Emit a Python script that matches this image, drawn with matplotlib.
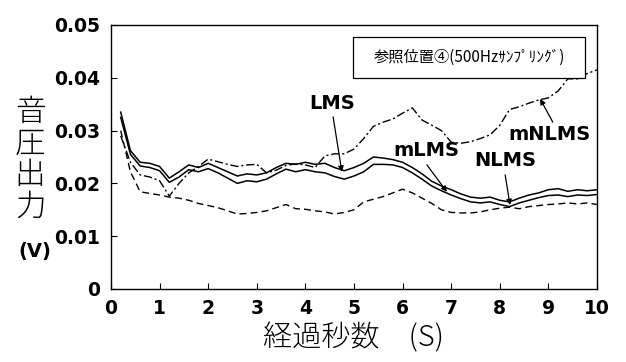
import numpy as np
import matplotlib.pyplot as plt
from matplotlib.patches import Rectangle

plt.rcParams['font.family'] = ['DejaVu Sans', 'Noto Sans CJK JP']

# elapsed time (s), one sample every 0.2 s
timeSec = np.round(np.arange(0.2, 10.01, 0.2), 1)

lms = [0.0335, 0.0262, 0.0240, 0.0238, 0.0232, 0.0210, 0.0222, 0.0235, 0.0230, 0.0238,
       0.0230, 0.0222, 0.0214, 0.0218, 0.0216, 0.0220, 0.0230, 0.0238, 0.0236, 0.0240,
       0.0236, 0.0238, 0.0230, 0.0224, 0.0230, 0.0238, 0.0250, 0.0248, 0.0245, 0.0240,
       0.0230, 0.0218, 0.0204, 0.0195, 0.0188, 0.0180, 0.0174, 0.0172, 0.0174, 0.0168,
       0.0165, 0.0172, 0.0178, 0.0182, 0.0188, 0.0190, 0.0185, 0.0188, 0.0186, 0.0188]

nlms = [0.0325, 0.0255, 0.0233, 0.0230, 0.0224, 0.0202, 0.0212, 0.0226, 0.0222, 0.0228,
        0.0220, 0.0210, 0.0200, 0.0205, 0.0203, 0.0208, 0.0218, 0.0227, 0.0222, 0.0226,
        0.0222, 0.0220, 0.0213, 0.0208, 0.0214, 0.0222, 0.0236, 0.0236, 0.0235, 0.0230,
        0.0220, 0.0208, 0.0195, 0.0186, 0.0178, 0.0171, 0.0165, 0.0163, 0.0165, 0.0160,
        0.0156, 0.0163, 0.0168, 0.0173, 0.0177, 0.0178, 0.0175, 0.0178, 0.0177, 0.0179]

mlms = [0.0300, 0.0222, 0.0184, 0.0181, 0.0178, 0.0174, 0.0172, 0.0168, 0.0162, 0.0158,
        0.0154, 0.0148, 0.0142, 0.0143, 0.0145, 0.0148, 0.0154, 0.0160, 0.0152, 0.0151,
        0.0148, 0.0146, 0.0142, 0.0145, 0.0150, 0.0165, 0.0170, 0.0175, 0.0182, 0.0189,
        0.0182, 0.0172, 0.0162, 0.0150, 0.0145, 0.0144, 0.0144, 0.0146, 0.0150, 0.0153,
        0.0155, 0.0152, 0.0156, 0.0158, 0.0160, 0.0161, 0.0163, 0.0161, 0.0163, 0.0160]

mnlms = [0.0290, 0.0240, 0.0216, 0.0212, 0.0205, 0.0176, 0.0200, 0.0220, 0.0232, 0.0246,
         0.0241, 0.0236, 0.0232, 0.0235, 0.0236, 0.0220, 0.0225, 0.0234, 0.0237, 0.0235,
         0.0230, 0.0252, 0.0256, 0.0256, 0.0265, 0.0285, 0.0308, 0.0316, 0.0322, 0.0333,
         0.0343, 0.0320, 0.0310, 0.0300, 0.0278, 0.0276, 0.0279, 0.0285, 0.0292, 0.0310,
         0.0340, 0.0345, 0.0352, 0.0358, 0.0362, 0.0375, 0.0398, 0.0398, 0.0408, 0.0415]

xTicks = list(range(0, 11))
yTicks = [0, 0.01, 0.02, 0.03, 0.04, 0.05]
yTickLabels = ["0", "0.01", "0.02", "0.03", "0.04", "0.05"]

# label text, text position, arrow tail, arrow tip
annotations = [
    ("LMS", (4.55, 0.0352), (4.57, 0.0326), (4.75, 0.0222)),
    ("mLMS", (6.48, 0.0263), (6.50, 0.0235), (6.91, 0.0184)),
    ("NLMS", (8.11, 0.0244), (8.11, 0.0216), (8.21, 0.0159)),
    ("mNLMS", (9.03, 0.0292), (9.09, 0.0316), (8.83, 0.0360)),
]
boxText = "参照位置④(500Hzｻﾝﾌﾟﾘﾝｸﾞ)"

fig = plt.figure(figsize=(6.26, 3.62), dpi=100)
ax = fig.add_axes([0.1773, 0.2017, 0.7764, 0.7293])

ax.plot(timeSec, lms, color="black", linewidth=1.1, linestyle="-")
ax.plot(timeSec, nlms, color="black", linewidth=1.1, linestyle="-")
ax.plot(timeSec, mlms, color="black", linewidth=1.0, linestyle=(0, (5, 3)))
ax.plot(timeSec, mnlms, color="black", linewidth=1.0, linestyle=(0, (6, 2, 1.5, 2)))

for label, textPos, tail, tip in annotations:
    ax.text(textPos[0], textPos[1], label, ha="center", va="center",
            fontsize=14, fontweight="bold", zorder=6)
    ax.annotate("", xy=tip, xytext=tail,
                arrowprops=dict(arrowstyle="-|>", color="black", lw=0.9,
                                mutation_scale=8, shrinkA=0, shrinkB=0),
                zorder=6)

# caption box in the upper right
ax.add_patch(Rectangle((4.98, 0.0400), 4.77, 0.0077, facecolor="white",
                       edgecolor="black", linewidth=0.9, zorder=4))
ax.text(7.37, 0.0439, boxText, ha="center", va="center", fontsize=11,
        family=["Noto Sans CJK JP", "DejaVu Sans"], zorder=5)

ax.set_xlim(0, 10)
ax.set_ylim(0, 0.05)
ax.set_xticks(xTicks)
ax.set_yticks(yTicks)
ax.set_yticklabels(yTickLabels)
ax.tick_params(direction="in", length=4, width=0.8, labelsize=13.5)
ax.tick_params(axis="x", pad=7)
ax.tick_params(axis="y", pad=8)
for tickLabel in ax.get_xticklabels() + ax.get_yticklabels():
    tickLabel.set_fontweight("bold")
for spine in ax.spines.values():
    spine.set_linewidth(1.0)

fig.text(0.048, 0.56, "音\n圧\n出\n力", ha="center", va="center", fontsize=22,
         family=["Noto Sans CJK JP"], fontweight="light", linespacing=0.98)
fig.text(0.056, 0.305, "(V)", ha="center", va="center", fontsize=14,
         fontweight="bold")
fig.text(0.565, 0.065, "経過秒数\u3000(S)", ha="center", va="center", fontsize=21,
         family=["Noto Sans CJK JP"], fontweight="light")

fig.savefig("out.png", dpi=100)
